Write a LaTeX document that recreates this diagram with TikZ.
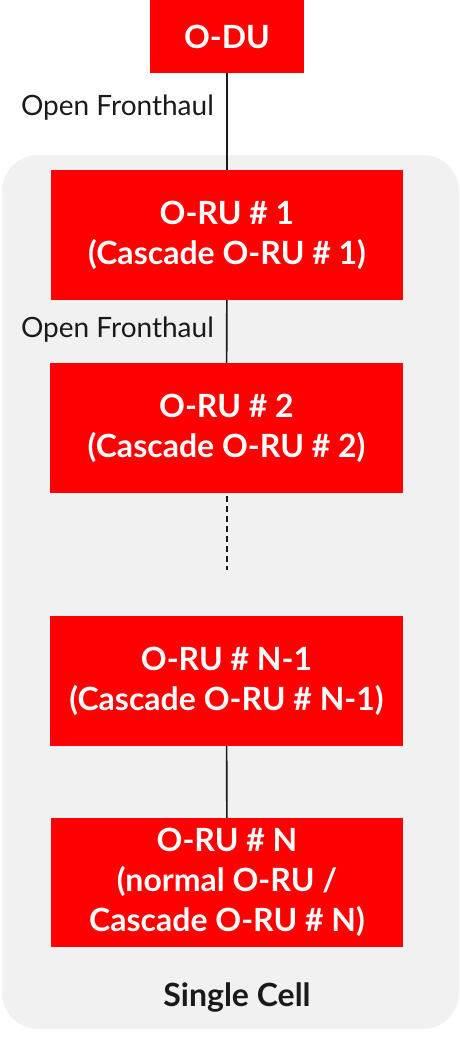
\documentclass[tikz,border=0pt]{standalone}
\usepackage{fontspec}
\setmainfont{Lato}
\definecolor{boxred}{HTML}{FF0000}
\definecolor{panel}{HTML}{F1F1F1}
\definecolor{ink}{HTML}{1A1A1A}
\begin{document}
\begin{tikzpicture}[x=1pt,y=-1pt,
  redbox/.style={rectangle, fill=boxred, draw=none, text=white, align=center,
    inner sep=0pt, font=\fontsize{32}{40}\selectfont\bfseries},
  wire/.style={draw=ink, line width=1.6pt},
  fhlabel/.style={anchor=east, text=ink, inner sep=0pt, font=\fontsize{28}{30}\selectfont}]
\useasboundingbox (0,0) rectangle (459,1037);
\fill[panel, rounded corners=36pt] (2,155) rectangle (459,1029);
\node[redbox, minimum width=154pt, minimum height=73pt] (odu) at (227,36.5) {O-DU};
\node[redbox, minimum width=352pt, minimum height=130pt] (oru1) at (227,235) {O-RU \# 1\\(Cascade O-RU \# 1)};
\node[redbox, minimum width=353pt, minimum height=130pt] (oru2) at (226.5,428) {O-RU \# 2\\(Cascade O-RU \# 2)};
\node[redbox, minimum width=353pt, minimum height=130pt] (orunm) at (226.5,681) {O-RU \# N-1\\(Cascade O-RU \# N-1)};
\node[redbox, minimum width=352pt, minimum height=129pt] (orun) at (227,882.5) {O-RU \# N\\(normal O-RU /\\Cascade O-RU \# N)};
\coordinate (dtop) at (227,496);
\coordinate (dbot) at (227,570);
\draw[wire] (odu) -- (oru1);
\draw[wire] (oru1) -- (oru2);
\draw[wire, dash pattern=on 6pt off 4pt] (dtop) -- (dbot);
\draw[wire] (orunm) -- (orun);
\node[fhlabel] (fh1) at (214,108) {Open Fronthaul};
\node[fhlabel] (fh2) at (214,330) {Open Fronthaul};
\node[text=ink, font=\fontsize{32}{36}\selectfont\bfseries] (cell) at (237,997) {Single Cell};
\end{tikzpicture}
\end{document}
